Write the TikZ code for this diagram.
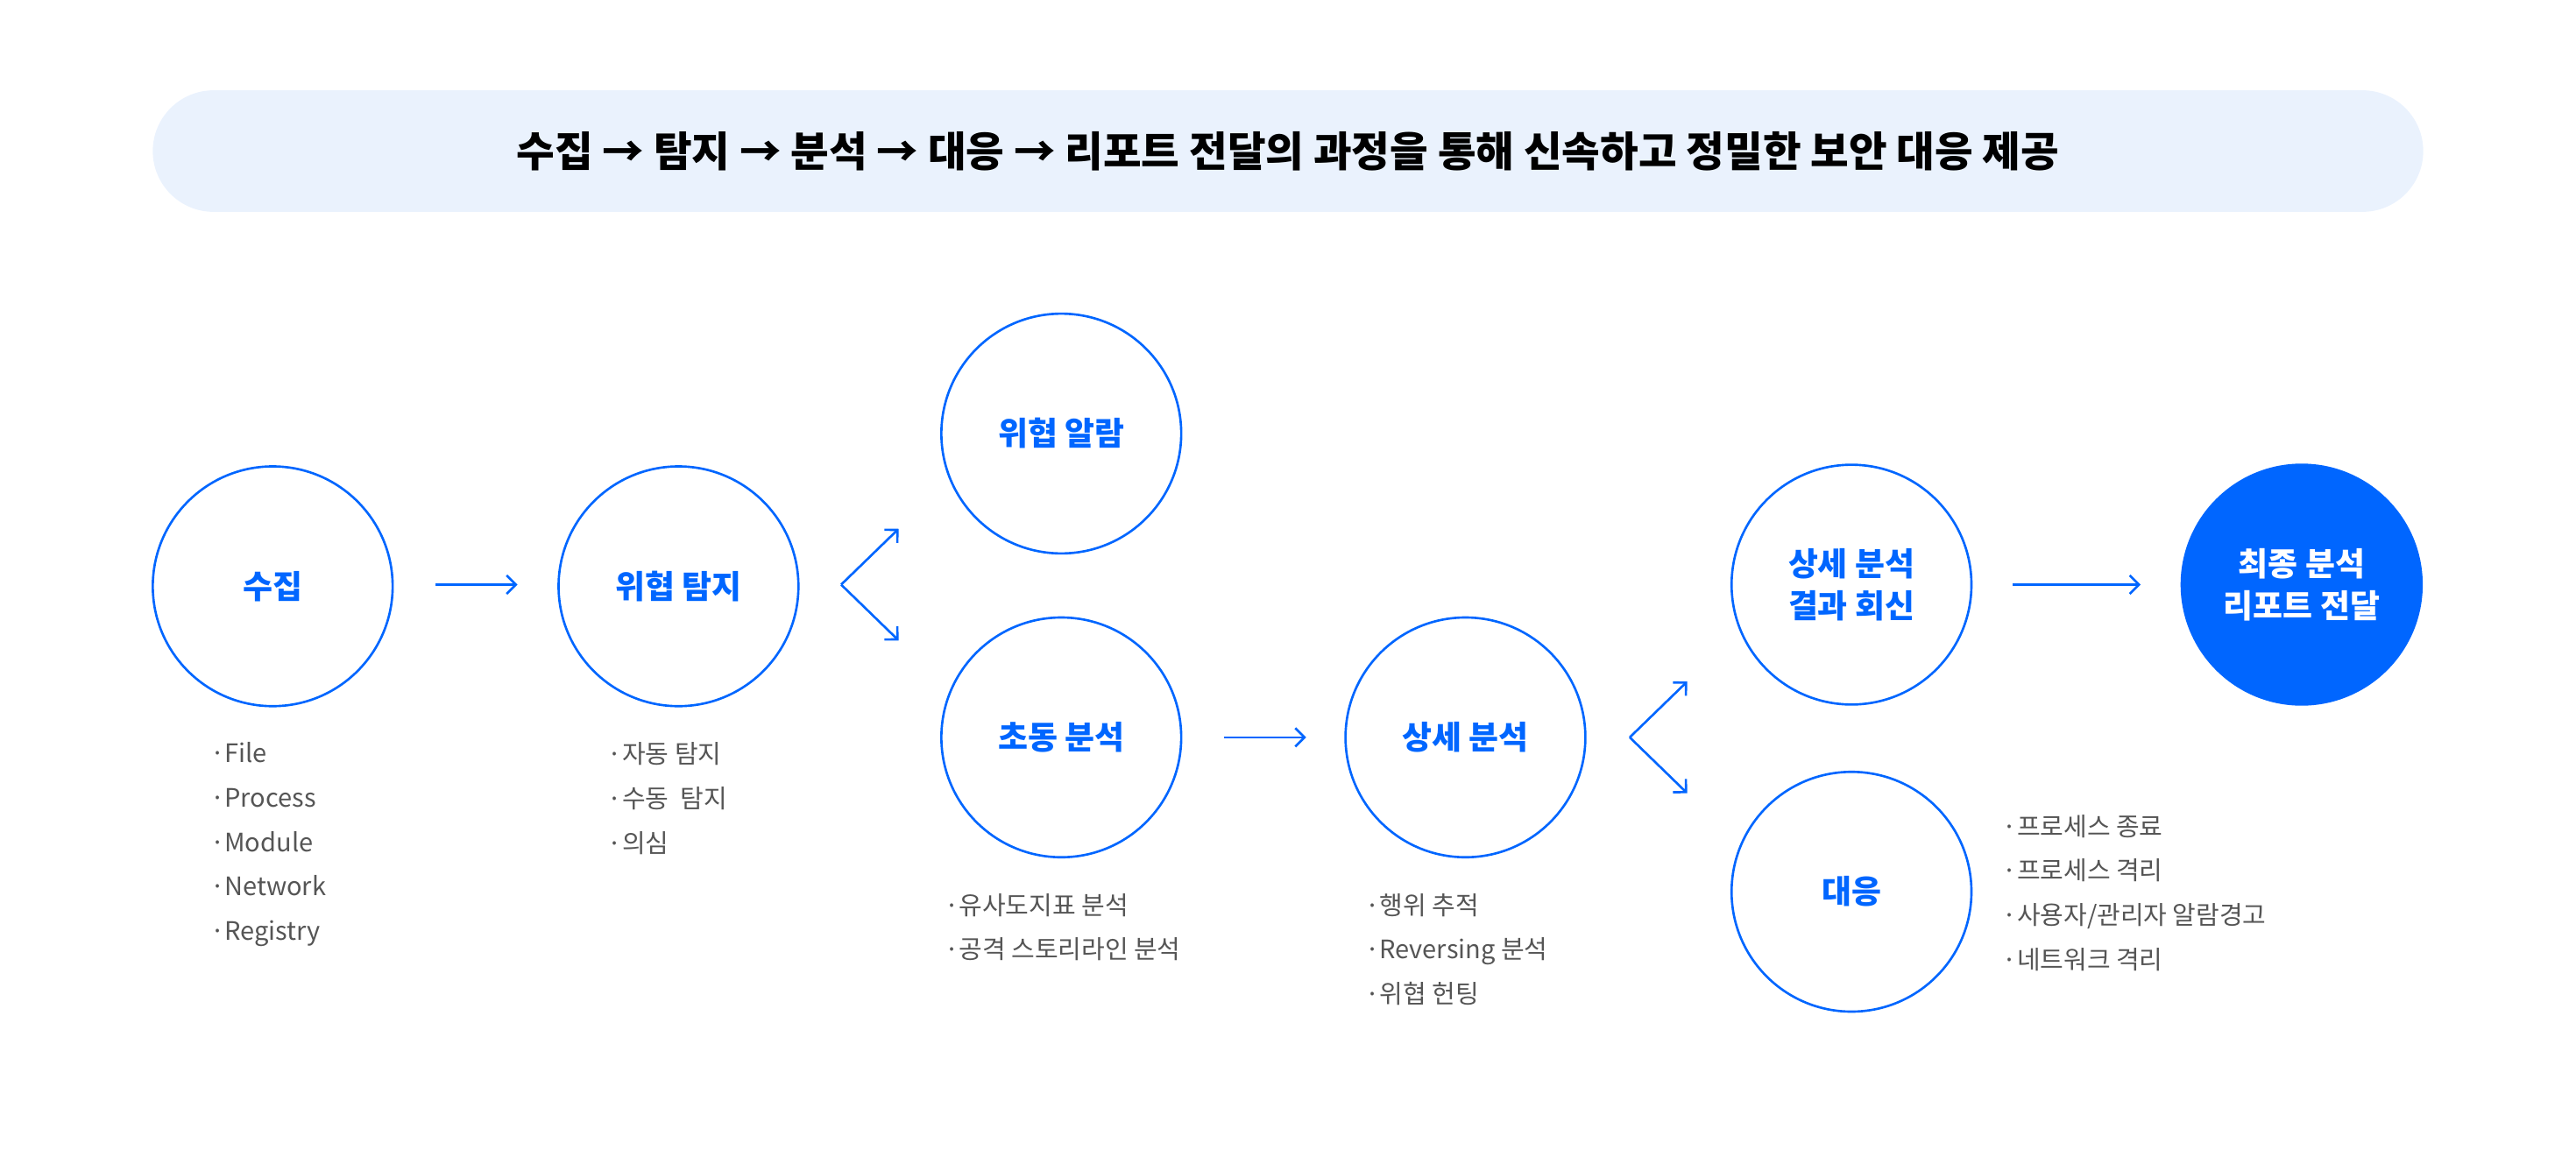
\documentclass[tikz,border=0pt]{standalone}
\usepackage{fontspec}
\setmainfont{Noto Sans CJK KR}
\newfontfamily\krb{Noto Sans CJK KR}[FakeSlant=0.15,BoldFont={Noto Sans CJK KR Bold}]
\usetikzlibrary{arrows.meta}
\definecolor{cblue}{HTML}{0066FF}
\definecolor{banner}{HTML}{EAF2FD}
\definecolor{gtext}{HTML}{555555}
\begin{document}
\begin{tikzpicture}[x=1mm,y=-1mm,
  circ/.style={circle,draw=cblue,line width=4pt,minimum size=146mm,inner sep=0pt,align=center,text=cblue,font=\fontsize{56}{72}\selectfont\bfseries},
  fin/.style={circ,fill=cblue,text=white},
  arr/.style={draw=cblue,line width=4pt,-{Straight Barb[length=16pt,width=32pt,line width=4pt]}},
  lst/.style={anchor=north west,align=left,text=gtext,font=\fontsize{44}{77}\selectfont,inner sep=0pt}]
\useasboundingbox (0,0) rectangle (1568,704);
\node[fill=banner,rounded corners=37mm,minimum width=1382mm,minimum height=74mm] (ban) at (784,92) {};
\node[font=\fontsize{72}{80}\selectfont\bfseries\itshape] (title) at (ban) {수집 → 탐지 → 분석 → 대응 → 리포트 전달의 과정을 통해 신속하고 정밀한 보안 대응 제공};
\node[circ] (c1) at (166,357) {수집};
\node[circ] (c2) at (413,357) {위협 탐지};
\node[circ] (c3) at (646,264) {위협 알람};
\node[circ] (c4) at (646,449) {초동 분석};
\node[circ] (c5) at (892,449) {상세 분석};
\node[circ] (c6) at (1127,356) {상세 분석\\결과 회신};
\node[circ] (c7) at (1127,543) {대응};
\node[fin] (c8) at (1401,356) {최종 분석\\리포트 전달};
\coordinate (a1s) at (265,356); \coordinate (a1e) at (315,356);
\draw[arr] (a1s) -- (a1e);
\coordinate (f1) at (512,356); \coordinate (f1a) at (547,322); \coordinate (f1b) at (547,390);
\draw[arr] (f1) -- (f1a); \draw[arr] (f1) -- (f1b);
\coordinate (a2s) at (745,449); \coordinate (a2e) at (795,449);
\draw[arr] (a2s) -- (a2e);
\coordinate (f2) at (992,449); \coordinate (f2a) at (1027,415); \coordinate (f2b) at (1027,483);
\draw[arr] (f2) -- (f2a); \draw[arr] (f2) -- (f2b);
\coordinate (a3s) at (1225,356); \coordinate (a3e) at (1303,356);
\draw[arr] (a3s) -- (a3e);
\node[lst] (l1) at (128,452) {·File\\·Process\\·Module\\·Network\\·Registry};
\node[lst] (l2) at (370,452) {·자동 탐지\\·수동\ \ 탐지\\·의심};
\node[lst] (l4) at (575,544) {·유사도지표 분석\\·공격 스토리라인 분석};
\node[lst] (l5) at (831,544) {·행위 추적\\·Reversing 분석\\·위협 헌팅};
\node[lst] (l7) at (1219,496) {·프로세스 종료\\·프로세스 격리\\·사용자/관리자 알람경고\\·네트워크 격리};
\end{tikzpicture}
\end{document}
